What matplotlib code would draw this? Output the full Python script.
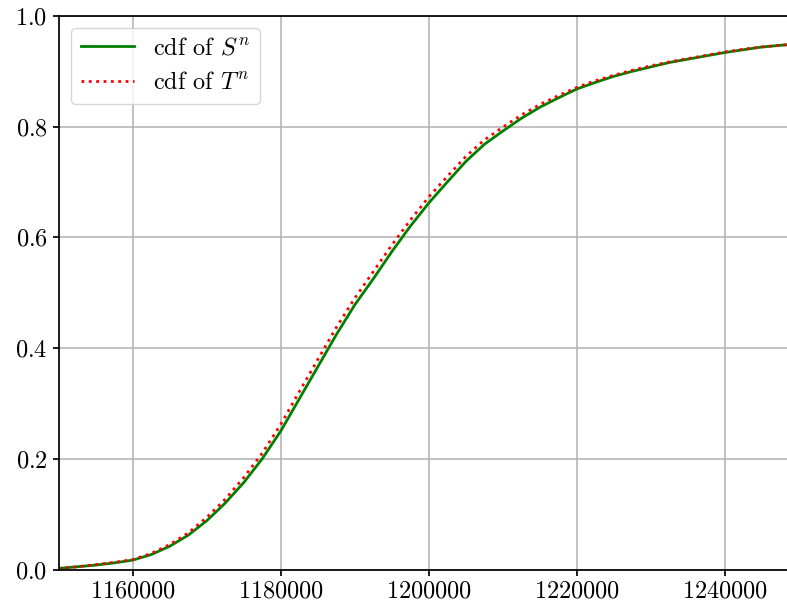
import numpy as np
import matplotlib
matplotlib.use("Agg")
import matplotlib.pyplot as plt

plt.rcParams["font.family"] = "serif"
plt.rcParams["font.serif"] = ["cmr10"]
plt.rcParams["mathtext.fontset"] = "cm"
plt.rcParams["axes.formatter.use_mathtext"] = True
plt.rcParams["font.size"] = 17.5
plt.rcParams["axes.linewidth"] = 1.25
plt.rcParams["xtick.major.width"] = 1.25
plt.rcParams["ytick.major.width"] = 1.25
plt.rcParams["xtick.major.size"] = 4.5
plt.rcParams["ytick.major.size"] = 4.5

# ---------- data ----------
x = np.arange(1150000, 1250001, 2500)
cdf_s = [0.002, 0.005, 0.008, 0.012, 0.017, 0.027, 0.042, 0.062, 0.088, 0.120,
         0.157, 0.200, 0.250, 0.308, 0.366, 0.424, 0.478, 0.525, 0.574, 0.620,
         0.662, 0.700, 0.737, 0.768, 0.792, 0.815, 0.835, 0.852, 0.868, 0.880,
         0.891, 0.900, 0.908, 0.916, 0.922, 0.928, 0.934, 0.939, 0.944, 0.947,
         0.950]
cdf_t = [0.002, 0.005, 0.009, 0.013, 0.018, 0.029, 0.045, 0.066, 0.094, 0.127,
         0.166, 0.210, 0.262, 0.321, 0.379, 0.437, 0.490, 0.538, 0.586, 0.631,
         0.673, 0.710, 0.746, 0.776, 0.799, 0.821, 0.840, 0.856, 0.871, 0.883,
         0.893, 0.902, 0.910, 0.917, 0.923, 0.929, 0.935, 0.940, 0.944, 0.947,
         0.950]

# ---------- plot ----------
fig = plt.figure(figsize=(7.87, 6.03), dpi=100)
ax = fig.add_axes([0.0745, 0.0555, 0.9255, 0.918])
ax.plot(x, cdf_s, color="green", lw=2, label=r"cdf of $S^n$")
ax.plot(x, cdf_t, color="red", lw=2, ls=":", label=r"cdf of $T^n$")

ax.set_xlim(1150000, 1248400)
ax.set_ylim(0, 1)
ax.set_xticks([1160000, 1180000, 1200000, 1220000, 1240000])
ax.set_yticks([0.0, 0.2, 0.4, 0.6, 0.8, 1.0])
ax.ticklabel_format(axis="x", style="plain", useOffset=False)
ax.spines["right"].set_visible(False)
ax.grid(True, color="#b0b0b0", lw=1.1)
ax.legend(loc="upper left", handlelength=2.2)

fig.savefig("out.png", dpi=100)
